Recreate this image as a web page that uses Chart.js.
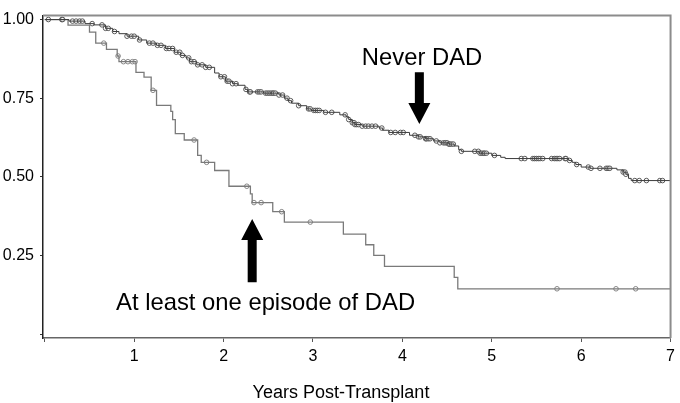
<!DOCTYPE html>
<html>
<head>
<meta charset="utf-8">
<script src="https://cdn.jsdelivr.net/npm/chart.js@4"></script>
<style>
  html, body { margin: 0; padding: 0; background: #ffffff; }
  canvas { display: block; }
</style>
</head>
<body>
<canvas id="c" width="680" height="403"></canvas>
<script>
// ---- Data ----
const neverTimes = [0, 0.27, 0.45, 0.55, 0.68, 0.76, 0.83, 0.92, 1.05, 1.14, 1.25, 1.35, 1.45, 1.52, 1.58, 1.62, 1.70, 1.80, 1.90, 1.95, 2.02, 2.10, 2.16, 2.24, 2.27, 2.45, 2.62, 2.68, 2.72, 2.76, 2.84, 2.93, 2.98, 3.12, 3.30, 3.37, 3.40, 3.44, 3.47, 3.55, 3.74, 3.78, 3.85, 4.08, 4.18, 4.26, 4.35, 4.42, 4.52, 4.58, 4.63, 4.66, 4.86, 5.00, 5.10, 5.15, 5.86, 5.90, 5.94, 6.00, 6.10, 6.40, 6.47, 6.50, 6.53, 6.56, 7.0];
const neverSurv  = [1.0, 0.995, 0.987, 0.983, 0.972, 0.962, 0.955, 0.947, 0.935, 0.925, 0.918, 0.908, 0.896, 0.886, 0.878, 0.866, 0.856, 0.848, 0.830, 0.818, 0.804, 0.796, 0.791, 0.778, 0.770, 0.766, 0.760, 0.750, 0.742, 0.734, 0.726, 0.716, 0.711, 0.705, 0.697, 0.691, 0.682, 0.672, 0.666, 0.661, 0.655, 0.648, 0.641, 0.632, 0.627, 0.621, 0.614, 0.608, 0.604, 0.598, 0.586, 0.581, 0.575, 0.568, 0.562, 0.558, 0.552, 0.546, 0.539, 0.531, 0.527, 0.522, 0.515, 0.508, 0.495, 0.488, 0.488];
const neverCensor = [0.04, 0.19, 0.20, 0.31, 0.35, 0.39, 0.42, 0.53, 0.64, 0.68, 0.71, 0.78, 0.92, 0.97, 1.00, 1.06, 1.17, 1.21, 1.26, 1.30, 1.36, 1.39, 1.43, 1.47, 1.51, 1.54, 1.61, 1.64, 1.67, 1.71, 1.76, 1.80, 1.84, 1.97, 2.01, 2.04, 2.06, 2.10, 2.14, 2.25, 2.29, 2.30, 2.38, 2.40, 2.42, 2.47, 2.49, 2.51, 2.53, 2.55, 2.56, 2.58, 2.62, 2.66, 2.71, 2.75, 2.84, 2.95, 2.97, 3.01, 3.03, 3.05, 3.07, 3.14, 3.21, 3.36, 3.40, 3.44, 3.46, 3.47, 3.49, 3.51, 3.55, 3.59, 3.62, 3.66, 3.70, 3.77, 3.87, 3.92, 3.98, 4.01, 4.14, 4.18, 4.20, 4.26, 4.27, 4.29, 4.31, 4.38, 4.42, 4.46, 4.48, 4.50, 4.52, 4.53, 4.55, 4.57, 4.66, 4.81, 4.85, 4.87, 4.89, 4.91, 4.92, 4.94, 5.03, 5.33, 5.37, 5.46, 5.48, 5.50, 5.52, 5.54, 5.57, 5.67, 5.70, 5.72, 5.74, 5.76, 5.82, 5.83, 5.87, 5.95, 6.08, 6.11, 6.21, 6.28, 6.30, 6.32, 6.47, 6.49, 6.50, 6.60, 6.65, 6.73, 6.88, 6.91];

const dadTimes = [0, 0.26, 0.50, 0.57, 0.69, 0.81, 0.83, 1.02, 1.11, 1.19, 1.25, 1.41, 1.43, 1.46, 1.56, 1.71, 1.75, 1.90, 2.06, 2.30, 2.32, 2.55, 2.68, 3.34, 3.59, 3.68, 3.80, 4.58, 4.62, 7.0];
const dadSurv  = [1.0, 0.982, 0.960, 0.925, 0.905, 0.884, 0.866, 0.832, 0.817, 0.775, 0.727, 0.708, 0.682, 0.637, 0.617, 0.568, 0.546, 0.520, 0.470, 0.446, 0.418, 0.389, 0.356, 0.318, 0.284, 0.250, 0.215, 0.180, 0.144, 0.144];
const dadCensor = [0.66, 0.82, 0.88, 0.93, 0.98, 1.01, 1.21, 1.67, 1.81, 2.26, 2.34, 2.42, 2.65, 2.97, 5.73, 6.39, 6.61];

const xTickValues = [0, 1, 2, 3, 4, 5, 6, 7];
const yTickValues = [0, 0.25, 0.50, 0.75, 1.00];

const xAxisTitle = 'Years Post-Transplant';
const labelNever = 'Never DAD';
const labelDad = 'At least one episode of DAD';

// ---- helpers ----
function survAt(times, surv, t) {
  let s = surv[0];
  for (let i = 0; i < times.length; i++) { if (times[i] <= t) s = surv[i]; }
  return s;
}
const stepPts = (times, surv) => times.map((t, i) => ({ x: t, y: surv[i] }));
const censorPts = (times, surv, cens) => cens.map(t => ({ x: t, y: survAt(times, surv, t) }));

const FONT = '"Liberation Sans", Arial, Helvetica, sans-serif';

const annotPlugin = {
  id: 'annot',
  beforeDraw(chart) {
    const c = chart.ctx;
    c.save();
    c.fillStyle = '#ffffff';
    c.fillRect(0, 0, chart.width, chart.height);
    c.restore();
  },
  afterDatasetsDraw(chart) {
    const c = chart.ctx;
    const xs = chart.scales.x, ys = chart.scales.y;
    const a = chart.chartArea;
    c.save();
    // top and right frame
    c.strokeStyle = '#8c8c8c';
    c.lineWidth = 2;
    c.beginPath();
    c.moveTo(a.left, a.top);
    c.lineTo(a.right, a.top);
    c.lineTo(a.right, a.bottom);
    c.stroke();

    // arrows
    function arrow(xv, tipV, tailV) {
      const x = xs.getPixelForValue(xv);
      const yt = ys.getPixelForValue(tipV);
      const yb = ys.getPixelForValue(tailV);
      const dir = yb > yt ? 1 : -1;
      const headLen = 21, headW = 11, shaftW = 4.5;
      const yh = yt + dir * headLen;
      c.fillStyle = '#000';
      c.beginPath();
      c.moveTo(x, yt);
      c.lineTo(x + headW, yh);
      c.lineTo(x + shaftW, yh);
      c.lineTo(x + shaftW, yb);
      c.lineTo(x - shaftW, yb);
      c.lineTo(x - shaftW, yh);
      c.lineTo(x - headW, yh);
      c.closePath();
      c.fill();
    }
    arrow(4.19, 0.668, 0.832);
    arrow(2.32, 0.366, 0.165);

    c.fillStyle = '#000';
    c.textAlign = 'center';
    c.textBaseline = 'alphabetic';
    c.font = '23.8px ' + FONT;
    c.fillText(labelNever, xs.getPixelForValue(4.22), ys.getPixelForValue(0.857));
    c.fillText(labelDad, xs.getPixelForValue(2.47), ys.getPixelForValue(0.078));

    // x axis title
    c.font = '18px ' + FONT;
    c.fillText(xAxisTitle, 341, 398);
    c.restore();
  }
};

new Chart(document.getElementById('c'), {
  type: 'scatter',
  data: {
    datasets: [
      { label: 'Never DAD', data: stepPts(neverTimes, neverSurv), showLine: true, stepped: true,
        borderColor: '#3c3c3c', borderWidth: 1, pointRadius: 0, fill: false },
      { label: 'DAD', data: stepPts(dadTimes, dadSurv), showLine: true, stepped: true,
        borderColor: '#7a7a7a', borderWidth: 1.3, pointRadius: 0, fill: false },
      { label: 'Never censor', data: censorPts(neverTimes, neverSurv, neverCensor), showLine: false,
        pointStyle: 'circle', pointRadius: 2.3, pointBorderWidth: 0.9, pointBorderColor: '#4a4a4a',
        pointBackgroundColor: 'rgba(255,255,255,0.6)' },
      { label: 'DAD censor', data: censorPts(dadTimes, dadSurv, dadCensor), showLine: false,
        pointStyle: 'circle', pointRadius: 2.3, pointBorderWidth: 0.9, pointBorderColor: '#7a7a7a',
        pointBackgroundColor: 'rgba(255,255,255,0.6)' }
    ]
  },
  options: {
    responsive: false,
    animation: false,
    events: [],
    layout: { padding: { top: 7, right: 7, left: 0, bottom: 0 } },
    plugins: { legend: { display: false }, tooltip: { enabled: false }, title: { display: false } },
    scales: {
      x: {
        type: 'linear', min: -0.02, max: 7,
        afterBuildTicks: s => { s.ticks = xTickValues.map(v => ({ value: v })); },
        afterFit: s => { s.height = 65; },
        ticks: { callback: v => (v === 0 ? '' : String(v)), color: '#000', font: { family: FONT, size: 16 }, padding: 5, maxRotation: 0, autoSkip: false },
        grid: { drawOnChartArea: false, drawTicks: true, tickLength: 4, color: '#555' },
        border: { color: '#666', width: 1.5 }
      },
      y: {
        type: 'linear', min: -0.0125, max: 1.0125,
        afterBuildTicks: s => { s.ticks = yTickValues.map(v => ({ value: v })); },
        afterFit: s => { s.width = 43; },
        ticks: { callback: v => (v === 0 ? '' : v.toFixed(2)), color: '#000', font: { family: FONT, size: 16 }, padding: 6, autoSkip: false },
        grid: { drawOnChartArea: false, drawTicks: true, tickLength: 3, color: '#333' },
        border: { color: '#222', width: 1.5 }
      }
    }
  },
  plugins: [annotPlugin]
});
</script>
</body>
</html>
